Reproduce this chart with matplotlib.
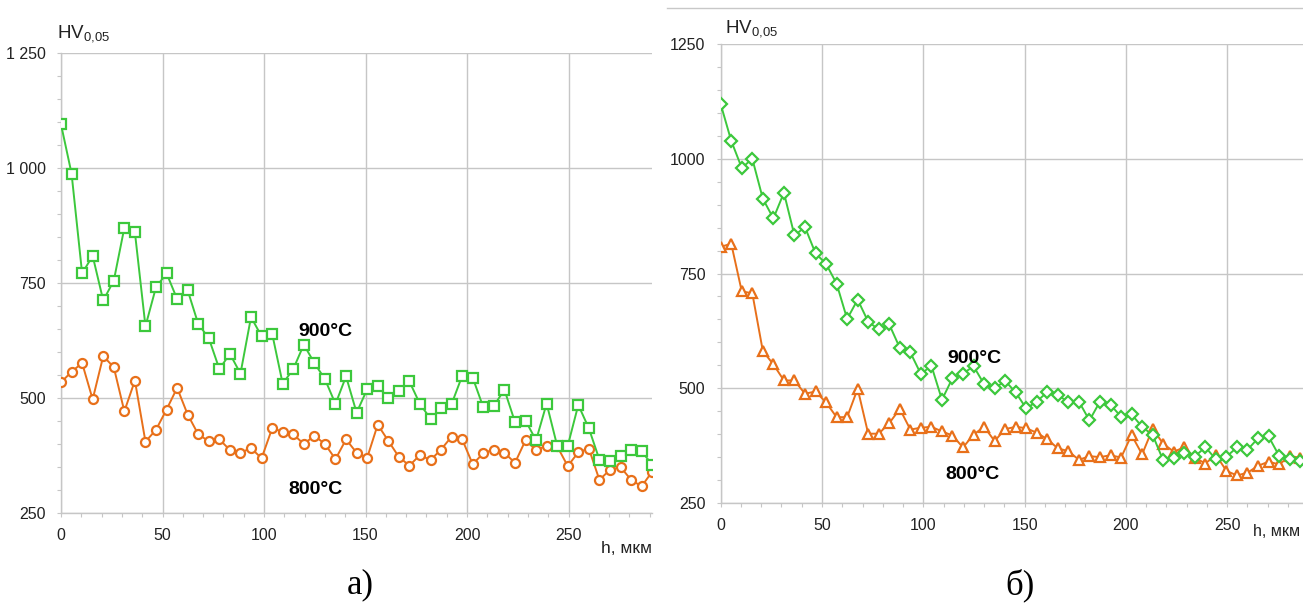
import numpy as np
import matplotlib
matplotlib.use('Agg')
import matplotlib.pyplot as plt
from matplotlib.ticker import MultipleLocator, FuncFormatter
from matplotlib.lines import Line2D

plt.rcParams['font.family'] = ['Liberation Sans', 'DejaVu Sans']
plt.rcParams['mathtext.fontset'] = 'custom'
plt.rcParams['mathtext.rm'] = 'Liberation Sans'

# depth step between indentations, mkm
step = 5.2

# panel a)
a_900 = [1095, 988, 771, 809, 712, 755, 870, 860, 656, 741, 771, 715, 734, 661, 630,
         563, 596, 553, 676, 634, 640, 531, 563, 616, 576, 541, 487, 547, 468, 519,
         527, 499, 516, 536, 487, 455, 478, 487, 548, 544, 480, 483, 518, 448, 451,
         408, 488, 396, 396, 485, 434, 366, 364, 373, 387, 384, 355]
a_800 = [534, 557, 576, 497, 591, 567, 471, 538, 405, 431, 475, 522, 464, 421, 406,
         410, 387, 381, 391, 369, 434, 427, 421, 400, 418, 400, 367, 410, 381, 370,
         442, 407, 372, 353, 376, 365, 388, 416, 410, 356, 380, 388, 381, 359, 408,
         387, 396, 395, 352, 382, 390, 322, 344, 350, 322, 308, 340]

# panel б)
b_900 = [1119, 1039, 980, 1000, 913, 870, 926, 833, 851, 794, 771, 728, 651, 693, 645,
         628, 639, 588, 578, 531, 549, 475, 522, 532, 548, 509, 500, 516, 491, 456,
         471, 492, 485, 470, 471, 430, 471, 464, 438, 443, 416, 398, 343, 347, 360,
         351, 372, 345, 351, 371, 366, 391, 395, 353, 345, 342]
b_800 = [808, 815, 711, 707, 581, 552, 517, 517, 488, 493, 469, 437, 437, 499, 401,
         401, 424, 455, 410, 414, 416, 406, 397, 371, 399, 416, 385, 411, 416, 413,
         403, 389, 369, 363, 344, 352, 350, 354, 349, 398, 356, 412, 379, 362, 371,
         349, 336, 355, 320, 310, 316, 331, 340, 334, 352, 349]

GREEN = '#3cc83c'
ORANGE = '#e8701a'
GRID = '#c6c6c6'


def draw_panel(ax, hv900, hv800, m900, m800, ms900, ms800, xmax, ytick_fmt,
               lbl900, lbl800):
    x900 = np.arange(len(hv900)) * step
    x800 = np.arange(len(hv800)) * step
    ax.plot(x800, hv800, color=ORANGE, lw=1.4, marker=m800, ms=ms800,
            mfc='white', mec=ORANGE, mew=1.6, zorder=3)
    ax.plot(x900, hv900, color=GREEN, lw=1.4, marker=m900, ms=ms900,
            mfc='white', mec=GREEN, mew=1.6, zorder=4)

    ax.set_xlim(0, xmax)
    ax.set_ylim(250, 1250)
    ax.xaxis.set_major_locator(MultipleLocator(50))
    ax.xaxis.set_minor_locator(MultipleLocator(10))
    ax.yaxis.set_major_locator(MultipleLocator(250))
    ax.yaxis.set_minor_locator(MultipleLocator(50))
    ax.yaxis.set_major_formatter(FuncFormatter(ytick_fmt))
    ax.grid(True, which='major', color=GRID, lw=1.0)
    ax.set_axisbelow(True)
    for side in ('top', 'right'):
        ax.spines[side].set_visible(False)
    for side in ('left', 'bottom'):
        ax.spines[side].set_color(GRID)
        ax.spines[side].set_linewidth(1.0)
    ax.tick_params(which='both', colors=GRID, labelcolor='#222222',
                   labelsize=11.5, length=3, width=0.8, direction='out')
    ax.tick_params(axis='x', which='major', pad=8)
    ax.tick_params(axis='y', which='major', pad=8)

    ax.text(lbl900[0], lbl900[1], '900°C', fontsize=14, fontweight='bold',
            va='center', ha='left', zorder=5)
    ax.text(lbl800[0], lbl800[1], '800°C', fontsize=14, fontweight='bold',
            va='center', ha='left', zorder=5)


fig = plt.figure(figsize=(13.03, 6.08), dpi=100)

ax_a = fig.add_axes([61 / 1303, 1 - 513 / 608, 591 / 1303, 460 / 608])
draw_panel(ax_a, a_900, a_800, 's', 'o', 7.5, 6.5, 291.1,
           lambda v, p: f'{int(v):,}'.replace(',', ' '),
           (117, 645), (112, 300))
ax_a.text(1.0, -0.078, 'h, мкм', transform=ax_a.transAxes, ha='right',
          va='center', fontsize=12.5, color='#222222')

ax_b = fig.add_axes([720.7 / 1303, 1 - 503 / 608, 582.3 / 1303, 459 / 608])
draw_panel(ax_b, b_900, b_800, 'D', '^', 6.5, 7.5, 287.4,
           lambda v, p: f'{int(v)}',
           (112, 565), (111, 312))
ax_b.text(0.995, -0.062, 'h, мкм', transform=ax_b.transAxes, ha='right',
          va='center', fontsize=11.5, color='#222222')

fig.text(57 / 1303, 1 - 38 / 608, r'HV$_\mathregular{0{,}05}$', fontsize=13.5,
         color='#222222', va='baseline')
fig.text(725 / 1303, 1 - 33 / 608, r'HV$_\mathregular{0{,}05}$', fontsize=13.5,
         color='#222222', va='baseline')

fig.text(360 / 1303, 1 - 585 / 608, 'а)', fontsize=25, family='Liberation Serif',
         ha='center', va='center')
fig.text(1020 / 1303, 1 - 585 / 608, 'б)', fontsize=25, family='Liberation Serif',
         ha='center', va='center')

# frame line over the right panel
fig.add_artist(Line2D([667 / 1303, 1.0], [1 - 8 / 608, 1 - 8 / 608],
                      color='#c8c8c8', lw=1.0, transform=fig.transFigure))

fig.savefig('out.png', dpi=100)
